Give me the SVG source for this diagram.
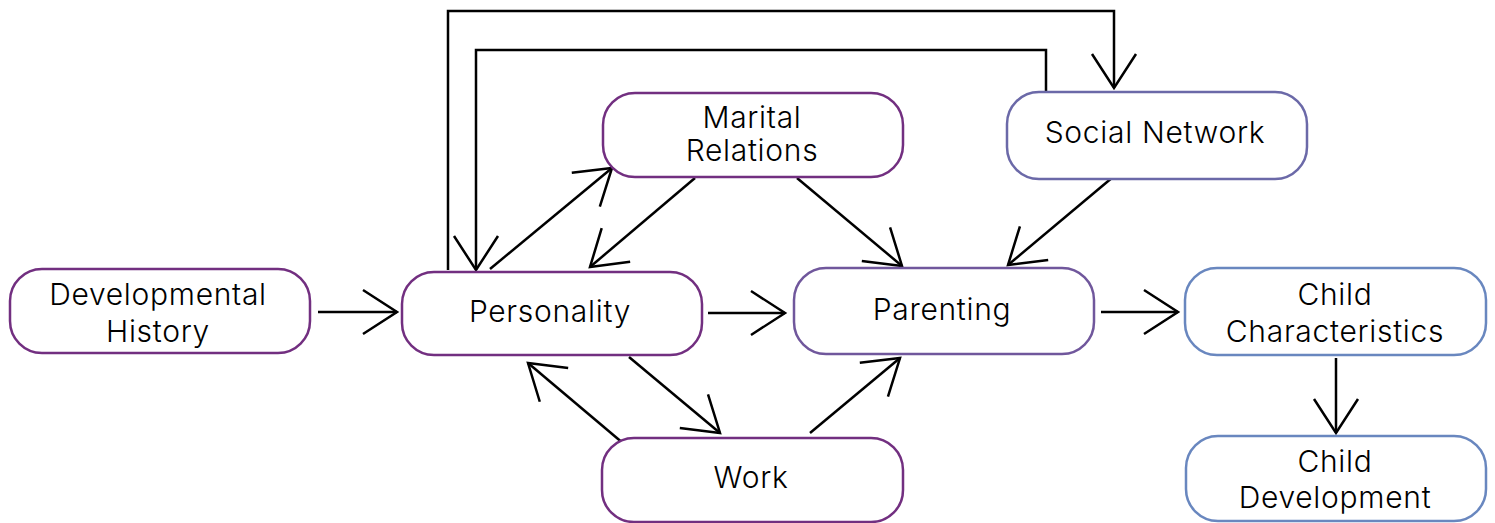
<svg xmlns="http://www.w3.org/2000/svg" width="1495" height="523" viewBox="0 0 1495 523">
<defs>
<marker id="arr" markerUnits="userSpaceOnUse" markerWidth="80" markerHeight="80" viewBox="-40 -40 80 80" refX="0" refY="0" orient="auto">
<path d="M-34,-22 L0,0 L-34,22" fill="none" stroke="#000" stroke-width="2.5"/>
</marker>
</defs>
<style>
.n rect{fill:#fff;stroke-width:2.5}
.p rect{stroke:#722f80}
.pb rect{stroke:#70579c}
.s rect{stroke:#6b69a8}
.c rect{stroke:#6987bf}
text{font-family:Inter,"Noto Sans",sans-serif;font-size:30px;font-weight:300;letter-spacing:0.7px;fill:#000;text-anchor:middle}
.e line,.e polyline{stroke:#000;stroke-width:2.5;fill:none;marker-end:url(#arr)}
</style>
<rect width="1495" height="523" fill="#fff"/>
<g class="e" id="connectors">
<line x1="318" y1="312" x2="397" y2="312"/>
<line x1="708" y1="313" x2="785" y2="313"/>
<line x1="1101" y1="312" x2="1178" y2="312"/>
<line x1="1336" y1="358" x2="1336" y2="433"/>
<line x1="490" y1="269" x2="612" y2="168"/>
<line x1="695" y1="178" x2="590" y2="267"/>
<line x1="797" y1="178" x2="902" y2="266"/>
<line x1="1113" y1="177" x2="1008" y2="265"/>
<line x1="629" y1="357" x2="720" y2="433"/>
<line x1="624" y1="444" x2="528" y2="363"/>
<line x1="810" y1="433" x2="900" y2="358"/>
<polyline points="448,270 448,11 1114,11 1114,88"/>
<polyline points="1046,92 1046,50 476,50 476,270"/>
</g>
<g id="developmental-history" class="n p"><rect x="10" y="269" width="300" height="84" rx="32"/><text x="158" y="305">Developmental</text><text x="158" y="342">History</text></g>
<g id="personality" class="n p"><rect x="402" y="272" width="300" height="83" rx="32"/><text x="550" y="322">Personality</text></g>
<g id="marital-relations" class="n p"><rect x="603" y="93" width="300" height="84" rx="32"/><text x="752" y="128">Marital</text><text x="752" y="161">Relations</text></g>
<g id="work" class="n p"><rect x="602" y="438" width="301" height="84" rx="32"/><text x="751" y="488">Work</text></g>
<g id="parenting" class="n pb"><rect x="794" y="268" width="300" height="86" rx="32"/><text x="942" y="320">Parenting</text></g>
<g id="social-network" class="n s"><rect x="1007" y="92" width="300" height="87" rx="32"/><text x="1155" y="143">Social Network</text></g>
<g id="child-characteristics" class="n c"><rect x="1185" y="268" width="301" height="87" rx="32"/><text x="1335" y="305">Child</text><text x="1335" y="342">Characteristics</text></g>
<g id="child-development" class="n c"><rect x="1186" y="436" width="300" height="85" rx="32"/><text x="1335" y="472">Child</text><text x="1335" y="508">Development</text></g>
</svg>
